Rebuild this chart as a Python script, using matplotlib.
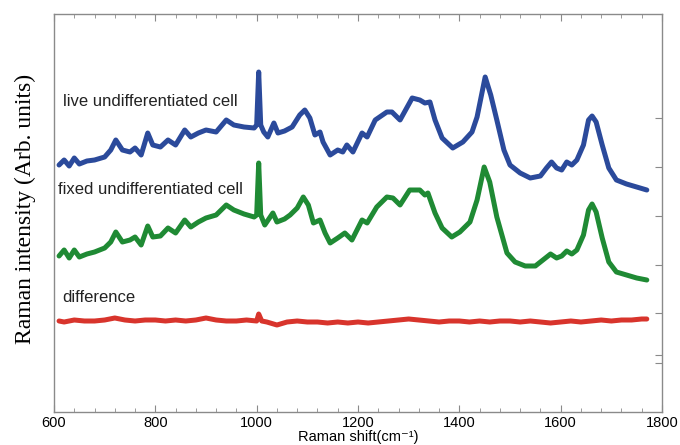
import matplotlib
matplotlib.use("Agg")
import matplotlib.pyplot as plt
from matplotlib.ticker import MultipleLocator, FixedLocator

# ---- data (Raman shift in cm^-1, intensity in arbitrary units) ----
live_x = [610, 620, 630, 640, 650, 665, 680, 700, 712, 722, 735, 750, 760, 772, 785, 795,
          810, 825, 840, 858, 870, 885, 900, 920, 940, 955, 975, 995, 1000, 1004, 1008,
          1014, 1022, 1034, 1042, 1055, 1070, 1085, 1095, 1105, 1115, 1125, 1131, 1145,
          1160, 1170, 1178, 1190, 1208, 1218, 1234, 1257, 1267, 1283, 1307, 1322, 1332,
          1342, 1352, 1366, 1387, 1407, 1425, 1435, 1451, 1462, 1474, 1488, 1500, 1520,
          1540, 1560, 1572, 1582, 1592, 1602, 1612, 1622, 1632, 1645, 1655, 1662, 1670,
          1682, 1695, 1710, 1730, 1750, 1770]
live_y = [247, 252, 246, 254, 248, 251, 252, 255, 262, 272, 262, 260, 264, 257, 279, 267,
          265, 272, 267, 282, 275, 279, 282, 280, 292, 287, 285, 284, 287, 340, 287,
          280, 275, 289, 279, 281, 285, 297, 302, 294, 277, 280, 270, 257,
          262, 260, 267, 260, 279, 275, 292, 300, 300, 292, 314, 312, 309,
          310, 292, 274, 264, 270, 280, 295, 335, 317, 292, 262, 247, 239,
          234, 236, 244, 250, 244, 242, 250, 247, 252, 267, 292, 296, 290,
          267, 244, 232, 228, 225, 222]

fixed_x = [610, 620, 630, 640, 650, 665, 680, 700, 712, 722, 735, 750, 760, 772, 785, 795,
           810, 825, 840, 858, 870, 885, 900, 920, 940, 955, 975, 995, 1000, 1004, 1008,
           1016, 1032, 1040, 1055, 1066, 1080, 1092, 1102, 1112, 1125, 1135, 1145, 1160,
           1174, 1188, 1208, 1218, 1237, 1257, 1269, 1283, 1302, 1322, 1332, 1338, 1352,
           1366, 1385, 1401, 1421, 1435, 1449, 1460, 1474, 1494, 1510, 1530, 1550, 1565,
           1580, 1592, 1602, 1612, 1622, 1632, 1645, 1655, 1662, 1670, 1682, 1695, 1710,
           1730, 1750, 1770]
fixed_y = [156, 162, 154, 162, 155, 158, 160, 164, 170, 180, 170, 172, 175, 167, 186, 175,
           176, 184, 179, 192, 185, 190, 194, 197, 207, 202, 198, 195, 197, 249, 197,
           187, 199, 190, 193, 197, 204, 215, 207, 189, 192, 179, 169, 174,
           179, 172, 192, 189, 205, 215, 214, 207, 222, 222, 217, 219, 199,
           184, 175, 180, 190, 212, 245, 230, 195, 159, 150, 146, 146, 152,
           158, 154, 156, 161, 158, 162, 177, 202, 208, 200, 174, 150, 140,
           137, 134, 132]

diff_x = [610, 620, 640, 660, 680, 700, 720, 740, 760, 780,
          800, 820, 840, 860, 880, 900, 920, 940, 960, 980,
          1000, 1004, 1010, 1020, 1040, 1060, 1080, 1100, 1120, 1140,
          1160, 1180, 1200, 1220, 1240, 1260, 1280, 1300, 1320, 1340,
          1360, 1380, 1400, 1420, 1440, 1460, 1480, 1500, 1520, 1540,
          1560, 1580, 1600, 1620, 1640, 1660, 1680, 1700, 1720, 1740,
          1760, 1770]
diff_y = [91, 90, 92, 91, 91, 92, 94, 92, 91, 92,
          92, 91, 92, 91, 92, 94, 92, 91, 91, 92,
          91, 98, 91, 90, 87, 90, 91, 90, 90, 89,
          90, 89, 90, 89, 90, 91, 92, 93, 92, 91,
          90, 91, 91, 90, 91, 90, 91, 91, 90, 91,
          90, 89, 90, 91, 90, 91, 92, 91, 92, 92,
          93, 93]

labels = ["live undifferentiated cell", "fixed undifferentiated cell", "difference"]
x_ticks = [600, 800, 1000, 1200, 1400, 1600, 1800]
right_ticks = [294, 245, 196, 147, 99, 57, 49]

# ---- figure ----
fig = plt.figure(figsize=(6.8, 4.45), dpi=100)
ax = fig.add_axes([54 / 680, 33 / 445, 608 / 680, 398 / 445])

lw = 3.6
ax.plot(live_x, live_y, color="#2b4a9b", lw=lw, solid_joinstyle="round", solid_capstyle="round")
ax.plot(fixed_x, fixed_y, color="#1f8a34", lw=lw, solid_joinstyle="round", solid_capstyle="round")
ax.plot(diff_x, diff_y, color="#d8342c", lw=lw, solid_joinstyle="round", solid_capstyle="round")

ax.set_xlim(600, 1800)
ax.set_ylim(0, 398)

txt_font = ["Liberation Sans", "DejaVu Sans"]
ax.text(617, 311, labels[0], fontsize=12, family=txt_font, va="center", ha="left", color="#222222")
ax.text(607, 223, labels[1], fontsize=12, family=txt_font, va="center", ha="left", color="#222222")
ax.text(617, 115, labels[2], fontsize=12, family=txt_font, va="center", ha="left", color="#222222")

spine_c = "#8a8a8a"
for s in ax.spines.values():
    s.set_color(spine_c)
    s.set_linewidth(1.0)

ax.xaxis.set_major_locator(FixedLocator(x_ticks))
ax.xaxis.set_minor_locator(MultipleLocator(40))
ax.tick_params(axis="x", which="both", direction="in", top=True, bottom=True,
               color=spine_c, labelsize=10.5, pad=3)
ax.tick_params(axis="x", which="major", length=5, width=0.8)
ax.tick_params(axis="x", which="minor", length=3, width=0.6)
for lab in ax.get_xticklabels():
    lab.set_family(txt_font)

ax.yaxis.set_major_locator(FixedLocator(right_ticks))
ax.tick_params(axis="y", which="both", direction="in", left=False, right=True,
               labelleft=False, labelright=False, color=spine_c, length=5, width=0.8)
ax.yaxis.set_minor_locator(FixedLocator([]))

ax.set_xlabel("Raman shift(cm\u207b\u00b9)", fontsize=10.5, family=txt_font, va="center")
ax.xaxis.set_label_coords(0.5, -0.063)
fig.text(25 / 680, 0.53, "Raman intensity (Arb. units)", rotation=90, fontsize=17,
         family=["Liberation Serif", "DejaVu Serif"], ha="center", va="center")

fig.savefig("out.png", dpi=100)
